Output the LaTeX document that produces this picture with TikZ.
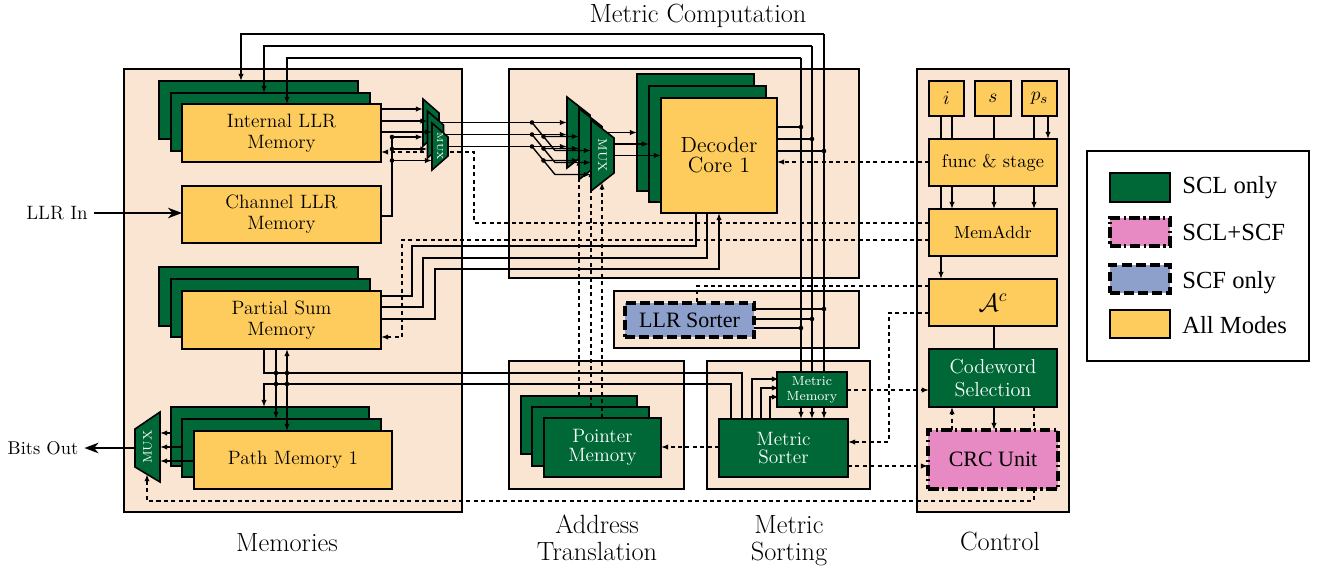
\documentclass[tikz,border=0pt]{standalone}
\usepackage{fontspec}
\newfontfamily\timesfont{Liberation Serif}
\usetikzlibrary{arrows.meta}

\definecolor{sclgreen}{RGB}{0,104,55}
\definecolor{allyellow}{RGB}{254,204,92}
\definecolor{groupbeige}{RGB}{249,229,210}
\definecolor{bothpink}{RGB}{231,138,195}
\definecolor{scfblue}{RGB}{141,160,203}

% block from corner (#2,#3) to corner (#4,#5), named #1, style #6, text #7
\newcommand\placeblock[7]{%
  \node[#6, minimum width={(#4-#2)*0.02cm}, minimum height={(#5-#3)*0.02cm}] (#1) at ({(#2+#4)/2},{(#3+#5)/2}) {#7};}

\tikzset{
  blockbase/.style={draw, line width=1.1pt, inner sep=0pt, outer sep=0pt, align=center},
  group/.style={blockbase, fill=groupbeige},
  legendbox/.style={blockbase, fill=white},
  yel/.style={blockbase, fill=allyellow, font=\fontsize{11}{12}\selectfont},
  grn/.style={blockbase, fill=sclgreen, text=white, font=\fontsize{11}{10.5}\selectfont},
  crcbox/.style={blockbase, fill=bothpink, line width=1.8pt, dash pattern=on 6pt off 2pt on 1.2pt off 2pt, font=\timesfont\fontsize{12.5}{14}\selectfont},
  scfbox/.style={blockbase, fill=scfblue, line width=1.8pt, dash pattern=on 5.5pt off 2.5pt, font=\timesfont\fontsize{12.5}{14}\selectfont},
  title/.style={font=\fontsize{15}{17}\selectfont, inner sep=0pt, anchor=base},
  lgtext/.style={font=\timesfont\fontsize{14}{16}\selectfont, inner sep=0pt, anchor=base west},
  wire/.style={line width=0.8pt},
  sig/.style={wire, -{Latex[length=4pt,width=3pt]}},
  ctl/.style={wire, dash pattern=on 2.3pt off 1.9pt},
  ctla/.style={ctl, -{Latex[length=4pt,width=3pt]}},
  bigarrow/.style={line width=1pt, -{Stealth[length=8pt,width=6pt,inset=2.5pt]}},
  muxshape/.style={draw, fill=sclgreen, line width=0.9pt},
  muxtext/.style={text=white, inner sep=0pt},
}

\begin{document}
\begin{tikzpicture}[x=0.02cm, y=-0.02cm]
\useasboundingbox (0,0) rectangle (1323,572);

% ---------- group frames ----------
\placeblock{gmem}{124}{69}{462}{512}{group}{}
\placeblock{gmet}{509}{69}{859}{278}{group}{}
\placeblock{gllr}{614}{291}{859}{348}{group}{}
\placeblock{gadr}{509}{361}{684}{489}{group}{}
\placeblock{gsrt}{707}{361}{870}{489}{group}{}
\placeblock{gctl}{917}{69}{1069}{512}{group}{}
\placeblock{gleg}{1087}{151}{1309}{361}{legendbox}{}

% ---------- titles ----------
\node[title] (tmc) at (698,22) {Metric Computation};
\node[title] (tme) at (287,551) {Memories};
\node[title] (tat1) at (597,533) {Address};
\node[title] (tat2) at (597,560) {Translation};
\node[title] (tms1) at (789,533) {Metric};
\node[title] (tms2) at (789,560) {Sorting};
\node[title] (tco) at (1000,550) {Control};

% ---------- memories ----------
\placeblock{ilb}{159}{81}{358}{139}{grn}{}
\placeblock{ilm}{171}{93}{370}{151}{grn}{}
\placeblock{ilf}{182}{104}{381}{162}{yel}{Internal LLR\\Memory}
\placeblock{chl}{182}{186}{381}{243}{yel}{Channel LLR\\Memory}
\placeblock{psb}{159}{267}{358}{326}{grn}{}
\placeblock{psm}{171}{279}{370}{337}{grn}{}
\placeblock{psf}{182}{291}{381}{349}{yel}{Partial Sum\\Memory}
\placeblock{pmb}{171}{407}{369}{466}{grn}{}
\placeblock{pmm}{182}{419}{381}{477}{grn}{}
\placeblock{pmf}{194}{431}{392}{489}{yel}{Path Memory 1}

% ---------- address translation ----------
\placeblock{ptb}{521}{396}{637}{454}{grn}{}
\placeblock{ptm}{532}{407}{649}{466}{grn}{}
\placeblock{ptf}{544}{418}{661}{477}{grn}{Pointer\\Memory}

% ---------- metric computation ----------
\placeblock{dcb}{637}{74}{754}{191}{grn}{}
\placeblock{dcm}{649}{86}{766}{202}{grn}{}
\placeblock{dcf}{661}{98}{777}{213}{yel, font=\fontsize{12.5}{11.5}\selectfont}{Decoder\\Core 1}

% ---------- sorting ----------
\placeblock{llrs}{625}{303}{754}{337}{scfbox}{LLR Sorter}
\placeblock{msrt}{719}{419}{848}{477}{grn}{Metric\\Sorter}

% ---------- control ----------
\placeblock{ci}{929}{81}{964}{116}{yel}{$i$}
\placeblock{cs}{975}{81}{1011}{116}{yel}{$s$}
\placeblock{cps}{1022}{81}{1057}{116}{yel}{$p_s$}
\placeblock{fst}{929}{139}{1057}{186}{yel, font=\fontsize{10.5}{12}\selectfont}{func \& stage}
\placeblock{mad}{929}{209}{1057}{256}{yel, font=\fontsize{10}{12}\selectfont}{MemAddr}
\placeblock{ac}{929}{279}{1057}{326}{yel, font=\fontsize{14}{16}\selectfont}{$\mathcal{A}^c$}
\placeblock{cw}{929}{349}{1057}{407}{grn, font=\fontsize{11.5}{13.4}\selectfont}{Codeword\\Selection}
\placeblock{crc}{928}{430}{1058}{489}{crcbox}{CRC Unit}

% ---------- legend ----------
\placeblock{lg1}{1110}{173}{1170}{202}{grn, line width=1.6pt}{}
\placeblock{lg2}{1110}{218}{1170}{246}{crcbox}{}
\placeblock{lg3}{1110}{265}{1170}{293}{scfbox}{}
\placeblock{lg4}{1110}{310}{1170}{338}{yel, line width=1.6pt}{}
\node[lgtext] (lt1) at (1182,193) {SCL only};
\node[lgtext] (lt2) at (1182,240) {SCL+SCF};
\node[lgtext] (lt3) at (1182,288) {SCF only};
\node[lgtext] (lt4) at (1182,333) {All Modes};

% ---------- outside labels ----------
\node[font=\fontsize{11}{12}\selectfont] (lin) at (57,213) {LLR In};
\node[font=\fontsize{10.5}{12}\selectfont] (bout) at (43,448) {Bits Out};
\draw[bigarrow] (lin.east) -- (chl.west |- lin.east);

% mux reference corners
\coordinate (sm0) at (423,99);
\coordinate (sm1) at (427.5,111);
\coordinate (sm2) at (432,123);
\coordinate (bm0) at (567,97);
\coordinate (bm1) at (579,108.5);
\coordinate (bm2) at (591,120);
\coordinate (bom) at (160,412);
\coordinate (bomL) at (135,448);

% ---------- feedback bus from decoder / LLR sorter ----------
\draw[sig] (824,34) -| (ilb.north -| 241,0);
\draw[sig] (812,46) -| (ilm.north -| 264,0);
\draw[sig] (801,58) -| (ilf.north -| 287,0);
\draw[sig] (824,34) -- (msrt.north -| 824,0);
\draw[sig] (812,46) -- (msrt.north -| 812,0);
\draw[sig] (801,58) -- (msrt.north -| 801,0);
\draw[wire] (dcf.east |- 0,127) -- (801,127);
\draw[wire] (dcf.east |- 0,139) -- (812,139);
\draw[wire] (dcf.east |- 0,151) -- (824,151);
\draw[wire] (llrs.east |- 0,309) -- (824,309);
\draw[wire] (llrs.east |- 0,319) -- (812,319);
\draw[wire] (llrs.east |- 0,328) -- (801,328);

% decoder <-> partial sum memory
\draw[wire] (dcf.south -| 696,0) -- (696,246) -- (412,246) -- (412,296) -- (psf.east |- 0,296);
\draw[wire] (dcf.south -| 707,0) -- (707,258) -- (423,258) -- (423,307) -- (psf.east |- 0,307);
\draw[sig] (psf.east |- 0,319) -- (435,319) -- (435,269) -- (719,269) -- (dcf.south -| 719,0);

% control lines (dashed)
\draw[ctla] (mad.west |- 0,223) -- (474,223) -- (474,152) -- (ilf.east |- 0,152);
\draw[ctla] (mad.west |- 0,240) -- (402,240) -- (402,337) -- (psf.east |- 0,337);
\draw[ctla] (fst.west |- 0,162) -- (dcf.east |- 0,162);
\draw[ctl] (ac.west |- 0,286) -- (697,286) -- (llrs.north -| 697,0);
\draw[ctla] (ac.west |- 0,313) -- (889,313) -- (889,442) -- (msrt.east |- 0,442);
\draw[ctla] (msrt.east |- 0,466) -- (crc.west |- 0,466);
\draw[ctla] (msrt.west |- 0,447) -- (ptf.east |- 0,447);
\draw[ctla] (crc.south -| 1034,0) -- (1034,501) -- (147,501) -- (147,474.2);
\draw[ctla] (crc.north -| 952,0) -- (cw.south -| 952,0);
\draw[ctl] (cw.south -| 1034,0) -- (crc.north -| 1034,0);

% control column wiring
\draw[wire] (ci.south -| 941,0) -- (fst.north -| 941,0);
\draw[wire] (ci.south -| 952,0) -- (fst.north -| 952,0);
\draw[wire] (cs.south -| 994,0) -- (fst.north -| 994,0);
\draw[wire] (cps.south -| 1034,0) -- (fst.north -| 1034,0);
\draw[sig] (cps.south -| 1048,0) -- (fst.north -| 1048,0);
\draw[wire] (fst.south -| 941,0) -- (mad.north -| 941,0);
\draw[sig] (fst.south -| 952,0) -- (mad.north -| 952,0);
\draw[sig] (fst.south -| 994,0) -- (mad.north -| 994,0);
\draw[sig] (fst.south -| 1034,0) -- (mad.north -| 1034,0);
\draw[sig] (mad.south -| 941,0) -- (ac.north -| 941,0);
\draw[wire] (ac.south -| 994,0) -- (cw.north -| 994,0);
\draw[sig] (cw.south -| 994,0) -- (crc.north -| 994,0);

% metric sorter <-> partial sum / path memories
\draw[wire] (msrt.north -| 742,0) -- (742,373) -- (264,373) -- (psf.south -| 264,0);
\draw[sig] (msrt.north -| 731,0) -- (731,384) -- (264,384) -- (pmb.north -| 264,0);
\draw[sig] (psf.south -| 276,0) -- (pmm.north -| 276,0);
\draw[sig] (287,373) -- (psf.south -| 287,0);
\draw[sig] (287,373) -- (pmf.north -| 287,0);

% metric sorter -> metric memory
\draw[sig] (msrt.north -| 752,0) -- (752,379) -- (779,379);
\draw[sig] (msrt.north -| 761,0) -- (761,388) -- (779,388);
\draw[sig] (msrt.north -| 770,0) -- (770,397) -- (779,397);

% path memory -> output mux
\draw[sig] (pmb.west |- 0,433) -- (bom |- 0,433);
\draw[sig] (pmm.west |- 0,447) -- (bom |- 0,447);
\draw[sig] (pmf.west |- 0,461) -- (bom |- 0,461);
\draw[bigarrow] (bomL) -- (bout.east |- bomL);

% pointer memory -> decoder muxes (select)
\draw[ctla] (ptb.north -| 579,0) -- (579,158.6);
\draw[ctla] (ptm.north -| 591,0) -- (591,170.1);
\draw[ctla] (ptf.north -| 602,0) -- (602,182.4);

% channel LLR fan-out
\draw[wire] (chl.east |- 0,216) -- (392,216) -- (392,137);

% mux outputs
\draw[sig] (439,122.5) -- (bm0 |- 0,122.5);
\draw[sig] (443.5,134.5) -- (bm0 |- 0,134.5);
\draw[sig] (448,146.5) -- (bm0 |- 0,146.5);
\draw[sig] (590,132.5) -- (dcb.west |- 0,132.5);
\draw[sig] (602,144) -- (dcm.west |- 0,144);
\draw[sig] (614,155.5) -- (dcf.west |- 0,155.5);

% metric memory on top of the bus
\placeblock{mmem}{777}{372}{847}{407}{grn, font=\fontsize{7.5}{8.5}\selectfont}{Metric\\Memory}
\draw[ctla] (mmem.east |- 0,390) -- (cw.west |- 0,390);

% ---------- small muxes (LLR memories) ----------
\draw[sig] (ilf.east |- 0,109) -- (sm0 |- 0,109);
\draw[sig] (392,137) -- (sm0 |- 0,137);
\filldraw[muxshape] (sm0) -- ++(16,14) -- ++(0,19) -- ++(-16,14) -- cycle;
\draw[sig] (ilf.east |- 0,121) -- (sm1 |- 0,121);
\draw[sig] (392,149) -- (sm1 |- 0,149);
\filldraw[muxshape] (sm1) -- ++(16,14) -- ++(0,19) -- ++(-16,14) -- cycle;
\draw[sig] (ilf.east |- 0,132) -- (sm2 |- 0,132);
\draw[sig] (392,160.5) -- (sm2 |- 0,160.5);
\filldraw[muxshape] (sm2) -- ++(16,14) -- ++(0,19) -- ++(-16,14) -- cycle;
\node[muxtext, rotate=-90, font=\fontsize{5}{6}\selectfont] (smx) at (440,146.5) {MUX};

% ---------- big muxes (decoder inputs) ----------
\filldraw[muxshape] (bm0) -- ++(23,18) -- ++(0,35) -- ++(-23,18) -- cycle;
\foreach \yy in {122.5,134.5,146.5}{
  \draw[sig] (532,\yy) -- (543.5,\yy+14) -- (bm1 |- 0,\yy+14);
}
\filldraw[muxshape] (bm1) -- ++(23,18) -- ++(0,35) -- ++(-23,18) -- cycle;
\foreach \yy in {122.5,134.5,146.5}{
  \draw[sig] (543.5,\yy+14) -- (555,\yy+28) -- (bm2 |- 0,\yy+28);
}
\filldraw[muxshape] (bm2) -- ++(23,18) -- ++(0,35) -- ++(-23,18) -- cycle;
\node[muxtext, rotate=-90, font=\fontsize{7}{8}\selectfont] (bmx) at (602.5,155.5) {MUX};

% ---------- output mux ----------
\filldraw[muxshape] (bom) -- ++(0,70) -- ++(-25,-15) -- ++(0,-38) -- cycle;
\node[muxtext, rotate=90, font=\fontsize{7}{8}\selectfont] (omx) at (147.5,447) {MUX};

% ---------- junctions ----------
\foreach \p in {(801,127),(812,139),(824,151),(824,309),(812,319),(801,328),
  (392,137),(392,149),(392,160.5),(532,122.5),(532,134.5),(532,146.5),
  (543.5,136.5),(543.5,148.5),(543.5,160.5),(276,373),(287,373),(276,384),(287,384)}
  \fill \p circle (1.3pt);
\end{tikzpicture}
\end{document}
